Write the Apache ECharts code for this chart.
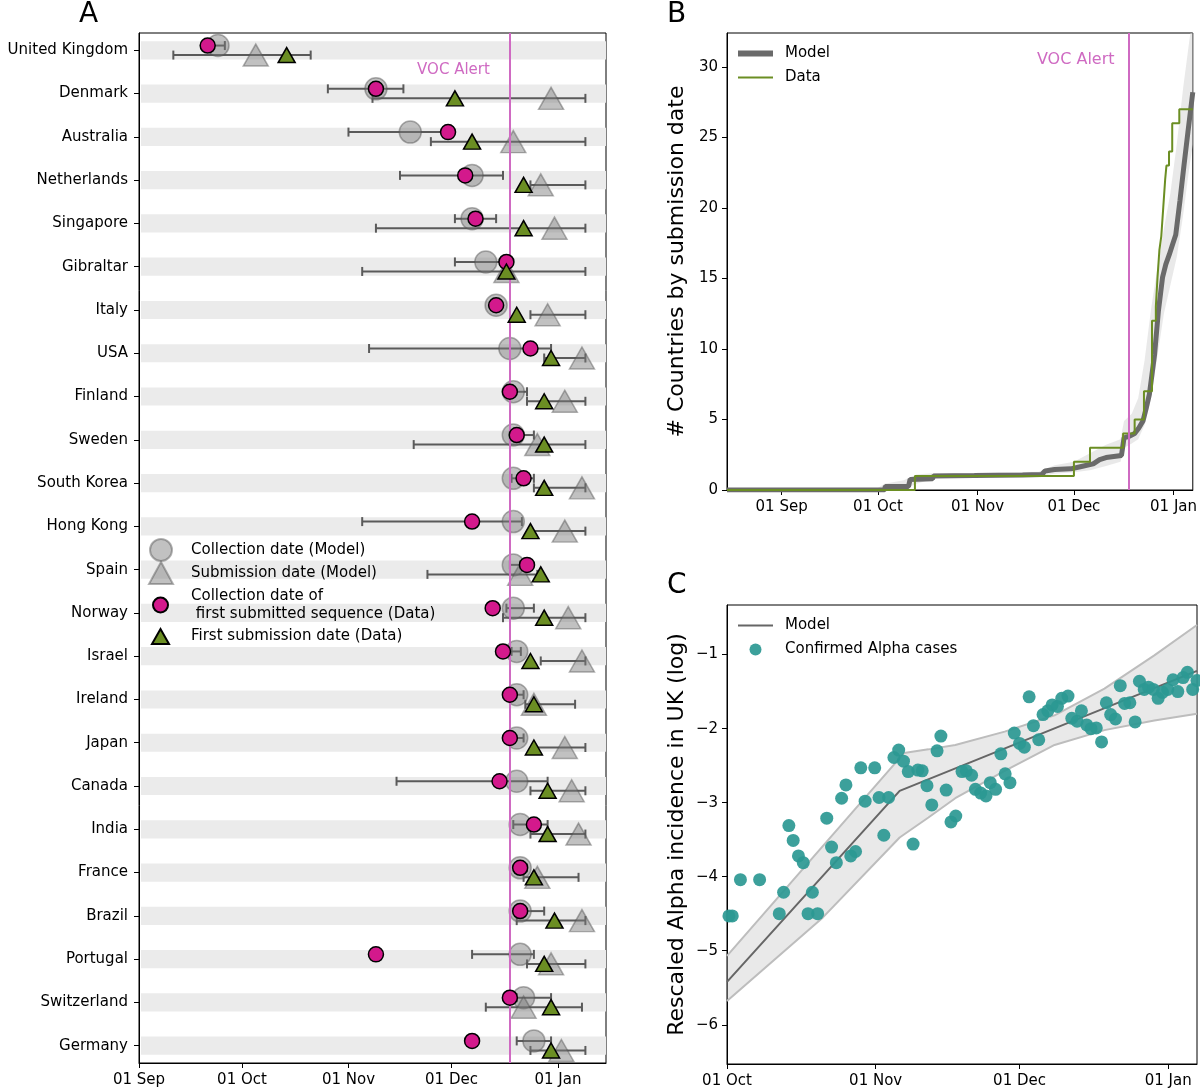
<!DOCTYPE html>
<html><head><meta charset="utf-8">
<script src="https://cdn.jsdelivr.net/npm/echarts@6/dist/echarts.min.js"></script>
<style>html,body{margin:0;padding:0;background:#fff}#c{width:1200px;height:1091px}</style>
</head><body><div id="c"></div>
<script>
// ---------- Panel A data (days since 01 Sep 2020) ----------
const countries = ['United Kingdom','Denmark','Australia','Netherlands','Singapore','Gibraltar','Italy','USA','Finland','Sweden','South Korea','Hong Kong','Spain','Norway','Israel','Ireland','Japan','Canada','India','France','Brazil','Portugal','Switzerland','Germany'];
const modelColl   = [23, 69, 79, 97, 97, 101, 104, 108, 109, 109, 109, 109, 109, 109, 110, 110, 110, 110, 111, 111, 111, 111, 112, 115];
const modelCollLo = [21, 55, 61, 76, 92, 92, 103.5, 67, 108, 108, 108.5, 65, 108, 107, 108.5, 109, 108.5, 75, 109, 110, 110, 97, 110, 110];
const modelCollHi = [25, 77, 89, 106, 104, 106.5, 104.5, 120, 113, 115, 115, 111.5, 111, 115, 111.2, 112, 112, 119, 119, 113, 118, 115, 120, 120];
const modelSub    = [34, 120, 109, 117, 121, 107, 119, 129, 124, 116, 129, 124, 111, 125, 129, 115, 124, 126, 128, 116, 129, 120, 112, 123];
const modelSubLo  = [10, 68, 85, 114, 69, 65, 114, 118, 113, 80, 115, 114, 84, 106, 117, 112.5, 115, 114, 114, 112, 110, 113, 101, 114];
const modelSubHi  = [50, 130, 130, 130, 130, 130, 130, 130, 130, 130, 130, 130, 116, 130, 130, 127, 130, 130, 130, 128, 130, 130, 129, 130];
const dataColl    = [20, 69, 90, 95, 98, 107, 104, 114, 108, 110, 112, 97, 113, 103, 106, 108, 108, 105, 115, 111, 111, 69, 108, 97];
const dataSub     = [43, 92, 97, 112, 112, 107, 110, 120, 118, 118, 118, 114, 117, 118, 114, 115, 115, 119, 119, 115, 121, 118, 120, 120];
const monthTickDays   = [0, 30, 61, 91, 122];
const monthTickLabels = ['01 Sep', '01 Oct', '01 Nov', '01 Dec', '01 Jan'];
const vocAlertDay = 108;

// ---------- Panel B data (days since 01 Sep 2020) ----------
const bModelDays = [-17, 32, 32.3, 39.5, 40, 47, 47.3, 60, 75, 81, 82, 85, 90, 93, 95, 97, 99, 101, 105.8, 106.6, 108.1, 109.9, 111.2, 112.5, 113.5, 114.5, 115.3, 116.1, 117.3, 118.6, 119.6, 120.7, 121.7, 122.7, 124, 125.3, 126.5, 128];
const bModelVals = [0, 0, 0.25, 0.25, 0.75, 0.8, 1.0, 1.02, 1.06, 1.1, 1.35, 1.45, 1.5, 1.65, 1.75, 1.85, 2.15, 2.3, 2.45, 3.7, 3.8, 4.0, 4.4, 4.9, 5.8, 6.8, 8.2, 9.6, 12.7, 15.1, 16.0, 16.7, 17.4, 18.1, 20.5, 23.1, 25.4, 28.2];
const bBandDays = [-17, 29, 32, 38, 42, 48, 60, 80, 85, 91, 96, 101, 105.5, 106.6, 109, 111, 113, 115, 117, 119, 121, 123, 125, 127, 128];
const bBandLo   = [0, 0, 0, 0.05, 0.45, 0.85, 0.9, 1.0, 1.15, 1.25, 1.4, 1.7, 2.0, 3.0, 3.3, 3.6, 4.6, 6.5, 9.5, 12.5, 14.5, 16.5, 19.5, 23, 24.5];
const bBandHi   = [0, 0, 0.45, 0.7, 1.1, 1.2, 1.2, 1.3, 1.75, 2.0, 2.6, 3.2, 3.6, 4.9, 5.4, 6.5, 9.2, 12.8, 15.8, 18.5, 21, 24.5, 28.5, 32, 33.5];
const bDataDays = [-17, 41.5, 91, 96, 106.3, 109.9, 112.8, 115.3, 116.5, 117.0, 117.6, 118.2, 118.8, 119.4, 119.8, 120.6, 121.6, 123.8, 128];
const bDataVals = [0, 1, 2, 3, 4, 5, 7, 12, 13, 15, 17, 18, 20, 22, 23, 24, 26, 27, 27];
const bYTicks = [0, 5, 10, 15, 20, 25, 30];

// ---------- Panel C data (days since 01 Oct 2020) ----------
const cTickDays   = [0, 31, 61, 92];
const cTickLabels = ['01 Oct', '01 Nov', '01 Dec', '01 Jan'];
const cYTicks = [-6, -5, -4, -3, -2, -1];
const cModelDays = [0, 36, 98];
const cModelVals = [-5.42, -2.84, -1.22];
const cUpDays = [0, 36.9, 42, 47.6, 57.9, 68.3, 78.7, 89.1, 98];
const cUpVals = [-5.07, -2.33, -2.28, -2.22, -2.04, -1.82, -1.46, -1.01, -0.6];
const cLoDays = [0, 20, 36, 42, 47.6, 57.9, 68.3, 78.7, 89.1, 98];
const cLoVals = [-5.68, -4.55, -3.47, -3.2, -2.94, -2.57, -2.22, -2.02, -1.89, -1.80];
const cCaseDays = [0.4, 1.1, 2.8, 6.8, 10.9, 11.8, 12.9, 13.8, 14.9, 15.9, 16.9, 17.8, 18.9, 20.8, 21.8, 22.8, 23.9, 24.8, 25.8, 26.8, 27.9, 28.8, 30.8, 31.7, 32.7, 33.7, 34.8, 35.8, 36.8, 37.8, 38.8, 39.8, 40.7, 41.7, 42.7, 43.8, 44.6, 45.7, 46.7, 47.7, 49, 49.9, 51, 51.8, 52.9, 54, 54.9, 56, 57.1, 58, 59, 59.9, 61, 62, 63, 63.9, 65, 65.9, 66.9, 67.8, 68.9, 69.8, 71.1, 71.9, 73, 73.9, 75, 75.9, 77, 78.1, 79.1, 80, 81, 82, 82.9, 84, 85.1, 86, 87, 87.9, 88.9, 89.9, 90.8, 91.9, 93, 94, 95.1, 96, 97.1, 98];
const cCaseVals = [-4.53, -4.53, -4.04, -4.04, -4.5, -4.21, -3.31, -3.51, -3.72, -3.81, -4.5, -4.21, -4.5, -3.21, -3.6, -3.81, -2.94, -2.76, -3.72, -3.66, -2.53, -2.98, -2.53, -2.93, -3.44, -2.93, -2.39, -2.29, -2.44, -2.58, -3.56, -2.56, -2.57, -2.77, -3.03, -2.3, -2.1, -2.83, -3.26, -3.18, -2.58, -2.57, -2.63, -2.82, -2.87, -2.91, -2.73, -2.82, -2.34, -2.61, -2.73, -2.06, -2.2, -2.25, -1.57, -1.96, -2.15, -1.81, -1.76, -1.68, -1.70, -1.59, -1.56, -1.86, -1.90, -1.76, -1.95, -2.0, -1.99, -2.18, -1.65, -1.81, -1.87, -1.42, -1.66, -1.65, -1.91, -1.36, -1.47, -1.44, -1.47, -1.59, -1.51, -1.47, -1.34, -1.50, -1.31, -1.24, -1.47, -1.35];

// ---------- styles ----------
const FONT = 'DejaVu Sans';
const VOC_COLOR = '#cf6ac2';
const GREY_FILL = 'rgba(120,120,120,0.58)';
const GREY_EDGE = 'rgba(80,80,80,0.55)';
const MAGENTA = '#d3198c';
const GREEN = '#6b8e23';
const TEAL = '#2b9893';
const ROW_OFF = 0.11;

const zip = (a, b) => a.map((v, i) => [v, b[i]]);

function axisCommon() {
  return {
    axisLine: { show: true, onZero: false, lineStyle: { color: '#000', width: 1 } },
    axisTick: { show: true, inside: false, length: 5, lineStyle: { color: '#000', width: 1 } },
    axisLabel: { color: '#000', fontFamily: FONT, fontSize: 15 },
    splitLine: { show: false }
  };
}
function xAxisMonths(gridIndex, min, max, days, labels) {
  const c = axisCommon();
  return Object.assign(c, {
    type: 'value', gridIndex, min, max,
    axisLabel: Object.assign(c.axisLabel, { customValues: days, margin: 10,
      formatter: v => { const k = days.indexOf(v); return k >= 0 ? labels[k] : ''; } }),
    axisTick: Object.assign(c.axisTick, { customValues: days })
  });
}

function errRender(params, api) {
  const lo = api.value(0), hi = api.value(1), y = api.value(2);
  const p1 = api.coord([lo, y]), p2 = api.coord([hi, y]);
  const cap = 4.5;
  const style = { stroke: '#5a5a5a', lineWidth: 2 };
  return { type: 'group', children: [
    { type: 'line', shape: { x1: p1[0], y1: p1[1], x2: p2[0], y2: p2[1] }, style },
    { type: 'line', shape: { x1: p1[0], y1: p1[1] - cap, x2: p1[0], y2: p1[1] + cap }, style },
    { type: 'line', shape: { x1: p2[0], y1: p2[1] - cap, x2: p2[0], y2: p2[1] + cap }, style }
  ]};
}
function rowBandRender(params, api) {
  const row = api.value(1);
  const cs = params.coordSys;
  const a = api.coord([0, row - 0.21])[1], b = api.coord([0, row + 0.21])[1];
  return { type: 'rect', shape: { x: cs.x + 2, y: Math.min(a, b), width: cs.width - 2, height: Math.abs(b - a) }, style: { fill: '#ebebeb' } };
}
function polyBand(days, lo, hi, fill) {
  return function (params, api) {
    if (params.dataIndex !== 0) return null;
    const pts = [];
    for (let i = 0; i < days.length; i++) pts.push(api.coord([days[i], hi[i]]));
    for (let i = days.length - 1; i >= 0; i--) pts.push(api.coord([days[i], lo[i]]));
    return { type: 'polygon', shape: { points: pts }, style: { fill } };
  };
}
function polyBand2(d1, v1, d2, v2, fill) {
  return function (params, api) {
    if (params.dataIndex !== 0) return null;
    const pts = [];
    for (let i = 0; i < d1.length; i++) pts.push(api.coord([d1[i], v1[i]]));
    for (let i = d2.length - 1; i >= 0; i--) pts.push(api.coord([d2[i], v2[i]]));
    return { type: 'polygon', shape: { points: pts }, style: { fill } };
  };
}

const chart = echarts.init(document.getElementById('c'), null, { renderer: 'canvas' });

const nameA1 = 'Collection date (Model)';
const nameA2 = 'Submission date (Model)';
const nameA3 = 'Collection date of first submitted sequence (Data)';
const nameA4 = 'First submission date (Data)';

const legendText = { color: '#000', fontFamily: FONT, fontSize: 15 };
const lineIcon = (w, h) => 'path://M0,0H' + w + 'V' + h + 'H0Z';

const option = {
  animation: false,
  backgroundColor: '#fff',
  grid: [
    { left: 139, top: 33, width: 467, height: 1030, show: true, borderColor: '#000', borderWidth: 1, backgroundColor: 'transparent' },
    { left: 727, top: 33, width: 470, height: 457, show: true, borderColor: '#000', borderWidth: 1, backgroundColor: 'transparent' },
    { left: 727, top: 605, width: 470, height: 459, show: true, borderColor: '#000', borderWidth: 1, backgroundColor: 'transparent' }
  ],
  xAxis: [
    xAxisMonths(0, 0, 136, monthTickDays, monthTickLabels),
    xAxisMonths(1, -17, 128, monthTickDays, monthTickLabels),
    xAxisMonths(2, 0, 98, cTickDays, cTickLabels)
  ],
  yAxis: [
    (() => { const c = axisCommon(); const rows = countries.map((_, i) => i);
      return Object.assign(c, { type: 'value', gridIndex: 0, inverse: true, min: -0.4, max: 23.4,
        axisLabel: Object.assign(c.axisLabel, { customValues: rows, margin: 11, formatter: v => countries[v] || '' }),
        axisTick: Object.assign(c.axisTick, { customValues: rows }) }); })(),
    (() => { const c = axisCommon();
      return Object.assign(c, { type: 'value', gridIndex: 1, min: 0, max: 32.4,
        name: '# Countries by submission date', nameLocation: 'middle', nameGap: 39,
        nameTextStyle: { color: '#000', fontFamily: FONT, fontSize: 22 },
        axisLabel: Object.assign(c.axisLabel, { customValues: bYTicks, margin: 9 }),
        axisTick: Object.assign(c.axisTick, { customValues: bYTicks }) }); })(),
    (() => { const c = axisCommon();
      return Object.assign(c, { type: 'value', gridIndex: 2, min: -6.53, max: -0.33,
        name: 'Rescaled Alpha incidence in UK (log)', nameLocation: 'middle', nameGap: 39,
        nameTextStyle: { color: '#000', fontFamily: FONT, fontSize: 22 },
        axisLabel: Object.assign(c.axisLabel, { customValues: cYTicks, margin: 9, formatter: v => String(v).replace('-', '\u2212') }),
        axisTick: Object.assign(c.axisTick, { customValues: cYTicks }) }); })()
  ],
  legend: [
    { data: [nameA1], left: 149, top: 538, orient: 'vertical', padding: 0, itemWidth: 22, itemHeight: 22, selectedMode: false,
      textStyle: Object.assign({ padding: [0, 0, 0, 14] }, legendText) },
    { data: [nameA2], left: 148, top: 561, orient: 'vertical', padding: 0, itemWidth: 24, itemHeight: 22, selectedMode: false,
      textStyle: Object.assign({ padding: [0, 0, 0, 13] }, legendText) },
    { data: [nameA3], left: 152, top: 587, orient: 'vertical', padding: 0, itemWidth: 15, itemHeight: 15, selectedMode: false,
      textStyle: Object.assign({ lineHeight: 18, padding: [0, 0, 0, 18] }, legendText),
      formatter: () => 'Collection date of\n first submitted sequence (Data)' },
    { data: [nameA4], left: 151, top: 628, orient: 'vertical', padding: 0, itemWidth: 17, itemHeight: 15, selectedMode: false,
      textStyle: Object.assign({ padding: [0, 0, 0, 17] }, legendText) },
    { data: [{ name: 'Model', icon: lineIcon(35, 6) }, { name: 'Data', icon: lineIcon(35, 2) }],
      left: 738, top: 44, orient: 'vertical', padding: 0, itemGap: 5, itemWidth: 35, itemHeight: 14, selectedMode: false,
      textStyle: Object.assign({ lineHeight: 19, padding: [0, 0, 0, 7] }, legendText) },
    { data: [{ name: 'Model (C)', icon: lineIcon(35, 2) }, { name: 'Confirmed Alpha cases', icon: 'circle' }],
      left: 738, top: 616, orient: 'vertical', padding: 0, itemGap: 5, itemWidth: 35, itemHeight: 12, selectedMode: false,
      formatter: n => n === 'Model (C)' ? 'Model' : n,
      textStyle: Object.assign({ lineHeight: 19, padding: [0, 0, 0, 7] }, legendText) }
  ],
  series: [
    // ----- Panel A -----
    { type: 'custom', name: 'rowBands', xAxisIndex: 0, yAxisIndex: 0, z: 1, silent: true,
      renderItem: rowBandRender, encode: { x: 0, y: 1 }, data: countries.map((_, i) => [0, i]) },
    { type: 'custom', name: 'errColl', xAxisIndex: 0, yAxisIndex: 0, z: 2, silent: true,
      renderItem: errRender, encode: { x: [0, 1], y: 2 },
      data: modelColl.map((_, i) => [modelCollLo[i], modelCollHi[i], i - ROW_OFF]) },
    { type: 'custom', name: 'errSub', xAxisIndex: 0, yAxisIndex: 0, z: 2, silent: true,
      renderItem: errRender, encode: { x: [0, 1], y: 2 },
      data: modelSub.map((_, i) => [modelSubLo[i], modelSubHi[i], i + ROW_OFF]) },
    { type: 'scatter', name: nameA1, xAxisIndex: 0, yAxisIndex: 0, z: 3, symbol: 'circle', symbolSize: 22,
      itemStyle: { color: GREY_FILL, borderColor: GREY_EDGE, borderWidth: 1.5 },
      data: modelColl.map((v, i) => [v, i - ROW_OFF]) },
    { type: 'scatter', name: nameA2, xAxisIndex: 0, yAxisIndex: 0, z: 3, symbol: 'triangle', symbolSize: [25, 22],
      itemStyle: { color: GREY_FILL, borderColor: GREY_EDGE, borderWidth: 1.5 },
      data: modelSub.map((v, i) => [v, i + ROW_OFF]) },
    { type: 'scatter', name: 'vocA', xAxisIndex: 0, yAxisIndex: 0, z: 4, data: [],
      markLine: { silent: true, symbol: 'none', label: { show: false }, lineStyle: { color: VOC_COLOR, width: 2, type: 'solid' },
        data: [{ xAxis: vocAlertDay }] } },
    { type: 'scatter', name: nameA3, xAxisIndex: 0, yAxisIndex: 0, z: 5, symbol: 'circle', symbolSize: 15,
      itemStyle: { color: MAGENTA, borderColor: '#000', borderWidth: 1.5, opacity: 1 },
      data: dataColl.map((v, i) => [v, i - ROW_OFF]) },
    { type: 'scatter', name: nameA4, xAxisIndex: 0, yAxisIndex: 0, z: 5, symbol: 'triangle', symbolSize: [17, 15],
      itemStyle: { color: GREEN, borderColor: '#000', borderWidth: 1.5, opacity: 1 },
      data: dataSub.map((v, i) => [v, i + ROW_OFF]) },

    // ----- Panel B -----
    { type: 'custom', name: 'bandB', xAxisIndex: 1, yAxisIndex: 1, z: 1, silent: true, clip: true,
      renderItem: polyBand(bBandDays, bBandLo, bBandHi, 'rgba(215,215,215,0.55)'),
      encode: { x: 0, y: 1 }, data: bBandDays.map((d, i) => [d, bBandLo[i]]) },
    { type: 'line', name: 'Model', xAxisIndex: 1, yAxisIndex: 1, z: 2, symbol: 'none', showSymbol: false,
      lineStyle: { color: '#6a6a6a', width: 5 }, itemStyle: { color: '#6a6a6a' },
      data: zip(bModelDays, bModelVals) },
    { type: 'line', name: 'Data', xAxisIndex: 1, yAxisIndex: 1, z: 3, symbol: 'none', showSymbol: false, step: 'end',
      lineStyle: { color: GREEN, width: 2 }, itemStyle: { color: GREEN },
      data: zip(bDataDays, bDataVals) },
    { type: 'scatter', name: 'vocB', xAxisIndex: 1, yAxisIndex: 1, z: 4, data: [],
      markLine: { silent: true, symbol: 'none', label: { show: false }, lineStyle: { color: VOC_COLOR, width: 2, type: 'solid' },
        data: [{ xAxis: vocAlertDay }] } },

    // ----- Panel C -----
    { type: 'custom', name: 'bandC', xAxisIndex: 2, yAxisIndex: 2, z: 1, silent: true, clip: true,
      renderItem: polyBand2(cUpDays, cUpVals, cLoDays, cLoVals, 'rgba(200,200,200,0.4)'),
      encode: { x: 0, y: 1 }, data: cUpDays.map((d, i) => [d, cUpVals[i]]) },
    { type: 'line', name: 'bandCUp', xAxisIndex: 2, yAxisIndex: 2, z: 2, symbol: 'none', silent: true,
      lineStyle: { color: '#bdbdbd', width: 2 }, data: zip(cUpDays, cUpVals) },
    { type: 'line', name: 'bandCLo', xAxisIndex: 2, yAxisIndex: 2, z: 2, symbol: 'none', silent: true,
      lineStyle: { color: '#bdbdbd', width: 2 }, data: zip(cLoDays, cLoVals) },
    { type: 'line', name: 'Model (C)', xAxisIndex: 2, yAxisIndex: 2, z: 3, symbol: 'none', showSymbol: false,
      lineStyle: { color: '#666', width: 2 }, itemStyle: { color: '#666' },
      data: zip(cModelDays, cModelVals) },
    { type: 'scatter', name: 'Confirmed Alpha cases', xAxisIndex: 2, yAxisIndex: 2, z: 4, symbol: 'circle', symbolSize: 13,
      itemStyle: { color: TEAL, opacity: 0.92 },
      data: zip(cCaseDays, cCaseVals) }
  ]
};
chart.setOption(option);

// annotations placed through the axes' own scales
const vocAx = chart.convertToPixel({ xAxisIndex: 0 }, vocAlertDay);
const vocBx = chart.convertToPixel({ xAxisIndex: 1 }, vocAlertDay);
const letter = (t, x, y) => ({ type: 'text', left: x, top: y, style: { text: t, fontFamily: FONT, fontSize: 28, fill: '#000' } });
chart.setOption({ graphic: [
  letter('A', 79, 1), letter('B', 667, 1), letter('C', 667, 572),
  { type: 'text', x: vocAx - 20, y: 70, style: { text: 'VOC Alert', fontFamily: FONT, fontSize: 15, fill: VOC_COLOR, align: 'right', verticalAlign: 'middle' } },
  { type: 'text', x: vocBx - 14, y: 60, style: { text: 'VOC Alert', fontFamily: FONT, fontSize: 16, fill: VOC_COLOR, align: 'right', verticalAlign: 'middle' } }
]});
</script></body></html>
